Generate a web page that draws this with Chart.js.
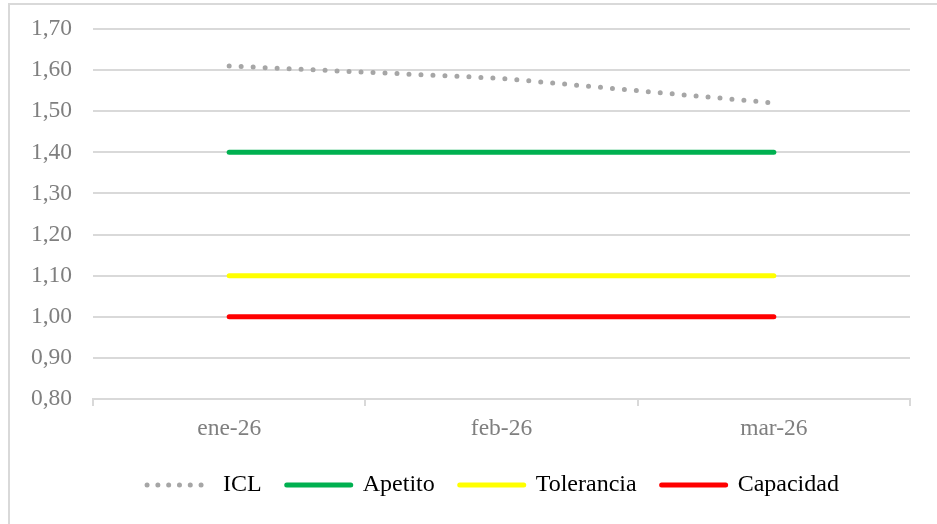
<!DOCTYPE html>
<html>
<head>
<meta charset="utf-8">
<script src="https://cdn.jsdelivr.net/npm/chart.js@4/dist/chart.umd.min.js"></script>
<style>
  html, body { margin: 0; padding: 0; background: #fff; }
  #wrap { position: relative; width: 937px; height: 524px; overflow: hidden; }
  #frame { position: absolute; left: 8px; top: 3px; width: 960px; height: 560px; border: 2px solid #d9d9d9; box-sizing: border-box; }
  canvas { position: absolute; left: 0; top: 0; }
</style>
</head>
<body>
<div id="wrap">
  <div id="frame"></div>
  <canvas id="c" width="937" height="524"></canvas>
</div>
<script>
const categories = ['ene-26', 'feb-26', 'mar-26'];
const icl = [1.61, 1.58, 1.52];
const apetito = [1.40, 1.40, 1.40];
const tolerancia = [1.10, 1.10, 1.10];
const capacidad = [1.00, 1.00, 1.00];
const yMin = 0.8, yMax = 1.7, yStep = 0.1;

const FONT = "'Liberation Serif', 'Times New Roman', serif";

const legendShift = {
  id: 'legendShift',
  afterLayout(chart) { if (chart.legend) chart.legend.left = 76; }
};

new Chart(document.getElementById('c'), {
  type: 'line',
  plugins: [legendShift],
  data: {
    labels: categories,
    datasets: [
      { label: 'ICL', data: icl, borderColor: '#a6a6a6', backgroundColor: '#a6a6a6',
        borderWidth: 5, borderDash: [0, 12], borderCapStyle: 'round', pointRadius: 0, tension: 0 },
      { label: 'Apetito', data: apetito, borderColor: '#00b050', backgroundColor: '#00b050',
        borderWidth: 5, borderCapStyle: 'round', pointRadius: 0 },
      { label: 'Tolerancia', data: tolerancia, borderColor: '#ffff00', backgroundColor: '#ffff00',
        borderWidth: 5, borderCapStyle: 'round', pointRadius: 0 },
      { label: 'Capacidad', data: capacidad, borderColor: '#ff0000', backgroundColor: '#ff0000',
        borderWidth: 5, borderCapStyle: 'round', pointRadius: 0 }
    ]
  },
  options: {
    responsive: false,
    animation: false,
    devicePixelRatio: 1,
    layout: { padding: { left: 0, right: 27, top: 29, bottom: 17 } },
    plugins: {
      tooltip: { enabled: false },
      legend: {
        position: 'bottom',
        labels: {
          usePointStyle: true,
          pointStyle: 'line',
          pointStyleWidth: 64,
          boxHeight: 5,
          padding: 25,
          color: '#000',
          font: { family: FONT, size: 24 },
          generateLabels: (chart) => chart.data.datasets.map((ds, i) => ({
            text: ds.label,
            fillStyle: ds.borderColor,
            strokeStyle: ds.borderColor,
            fontColor: '#000',
            lineWidth: 5,
            lineCap: 'round',
            lineDash: ds.borderDash ? [0, 10.8] : [],
            pointStyle: 'line',
            rotation: 180,
            hidden: false,
            datasetIndex: i
          }))
        }
      }
    },
    scales: {
      x: {
        offset: true,
        grid: { offset: true, drawOnChartArea: false, drawTicks: true, tickLength: 7, color: '#d9d9d9', lineWidth: 2 },
        border: { display: true, color: '#d9d9d9', width: 2 },
        ticks: { color: '#7f7f7f', font: { family: FONT, size: 23.5 }, padding: 9 },
        afterFit: (s) => { s.height = 49; }
      },
      y: {
        min: yMin, max: yMax,
        ticks: {
          stepSize: yStep,
          color: '#7f7f7f',
          padding: 21,
          font: { family: FONT, size: 23.5 },
          callback: (v) => Number(v).toFixed(2).replace('.', ',')
        },
        grid: { drawTicks: false, color: '#d9d9d9', lineWidth: 2 },
        border: { display: false },
        afterFit: (s) => { s.width = 93; s.paddingTop = 0; s.paddingBottom = 0; }
      }
    }
  }
});
</script>
</body>
</html>
